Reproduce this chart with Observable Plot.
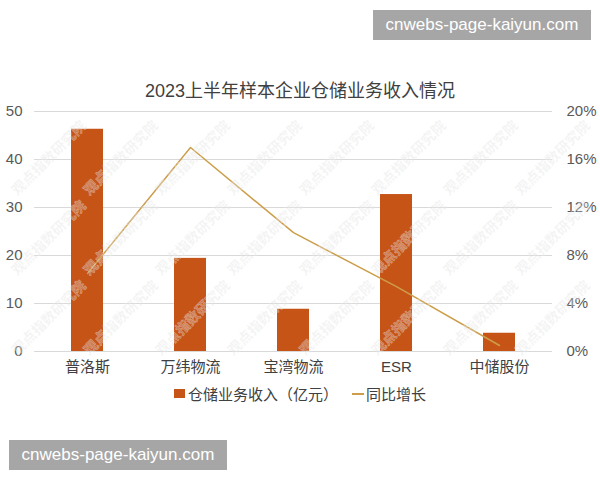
<!DOCTYPE html>
<html><head><meta charset="utf-8">
<script src="https://cdn.jsdelivr.net/npm/d3@7"></script>
<script src="https://cdn.jsdelivr.net/npm/@observablehq/plot@0.6"></script>
<style>
body{margin:0;background:#fff;font-family:"Liberation Sans","Noto Sans CJK SC",sans-serif;}
#wrap{position:relative;width:600px;height:480px;overflow:hidden;background:#fff;}
#chart{position:absolute;left:0;top:0;}
.title{position:absolute;left:0;width:600px;top:76px;text-align:center;font-size:18px;color:#404040;}
.legend{position:absolute;left:0;width:600px;top:383px;text-align:center;font-size:15px;color:#404040;white-space:nowrap;}
.legend span{display:inline-block;vertical-align:middle;}
.sw{width:11px;height:9px;margin-right:3px;}
.ln{width:12px;height:2px;margin-left:14px;margin-right:2px;}
.badge{position:absolute;width:218px;height:30px;background:#a6a6a6;color:#fff;font-size:17px;line-height:30px;text-align:center;}
.wm{position:absolute;font-size:14px;font-weight:bold;color:rgba(215,215,215,0.3);transform:translate(-50%,-50%) rotate(-45deg);white-space:nowrap;font-family:"Noto Sans CJK SC",sans-serif;-webkit-text-stroke:0.6px rgba(255,255,255,0.35);pointer-events:none;}
</style></head><body><div id="wrap"><div id="chart"></div></div>
<script>
const companies = ["普洛斯","万纬物流","宝湾物流","ESR","中储股份"];
const revenue = [46.3, 19.4, 8.8, 32.7, 3.8];      // 亿元
const growth = [6.5, 17.0, 9.9, 5.4, 0.5];         // %
const leftTicks = [0, 10, 20, 30, 40, 50];
const rightTickLabels = ["0%", "4%", "8%", "12%", "16%", "20%"];
const titleText = "2023上半年样本企业仓储业务收入情况";
const seriesNames = ["仓储业务收入（亿元）", "同比增长"];
const watermarkText = "观点指数研究院";
const barColor = "#C65417";
const lineColor = "#CC9E4A";

const data = companies.map((c, i) => ({company: c, revenue: revenue[i], growth: growth[i]}));

const chart = Plot.plot({
  width: 600, height: 480,
  marginTop: 111, marginBottom: 129, marginLeft: 34, marginRight: 48,
  style: {fontSize: "15px", fontFamily: '"Liberation Sans","Noto Sans CJK SC",sans-serif', color: "#595959", background: "transparent"},
  x: {domain: companies, paddingInner: 0.69, paddingOuter: 0.345},
  y: {domain: [0, 50]},
  marks: [
    Plot.gridY(leftTicks, {stroke: "#d9d9d9", strokeOpacity: 1}),
    Plot.barY(data, {x: "company", y: "revenue", fill: barColor}),
    Plot.line(data, {x: "company", y: d => d.growth * 2.5, stroke: lineColor, strokeWidth: 1.5}),
    Plot.axisY(leftTicks, {anchor: "left", tickSize: 0, tickPadding: 12, label: null, fontSize: 15}),
    Plot.axisY(leftTicks, {anchor: "right", tickSize: 0, tickPadding: 14, label: null, fontSize: 15,
      tickFormat: d => rightTickLabels[leftTicks.indexOf(d)]}),
    Plot.axisX({tickSize: 0, tickPadding: 10, label: null, fontSize: 15, fill: "#404040"})
  ]
});
const wrap = document.getElementById("wrap");
document.getElementById("chart").appendChild(chart);

// faint diagonal watermark
for (let r = 0; r < 3; r++) {
  for (let k = 0; k < 8; k++) {
    const w = document.createElement("div");
    w.className = "wm";
    w.style.left = (48 + 72 * k) + "px";
    w.style.top = (157 + 80 * r) + "px";
    w.textContent = watermarkText;
    wrap.appendChild(w);
  }
}

const t = document.createElement("div");
t.className = "title"; t.textContent = titleText; wrap.appendChild(t);

const lg = document.createElement("div");
lg.className = "legend";
lg.innerHTML = `<span class="sw" style="background:${barColor}"></span><span>${seriesNames[0]}</span><span class="ln" style="background:${lineColor}"></span><span>${seriesNames[1]}</span>`;
wrap.appendChild(lg);

for (const [l, tp] of [[373, 10], [9, 440]]) {
  const b = document.createElement("div");
  b.className = "badge"; b.style.left = l + "px"; b.style.top = tp + "px";
  b.textContent = "cnwebs-page-kaiyun.com";
  wrap.appendChild(b);
}
</script></body></html>
